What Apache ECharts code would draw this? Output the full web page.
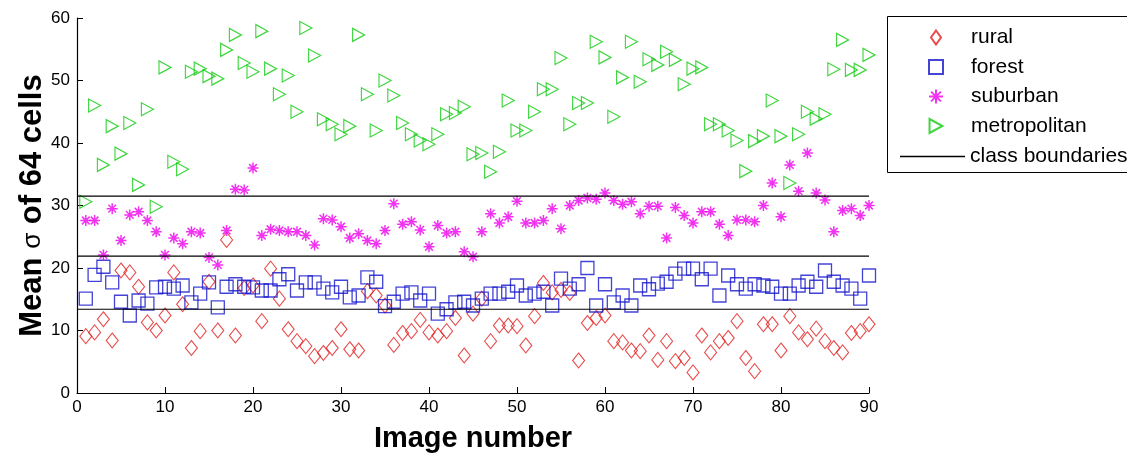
<!DOCTYPE html>
<html><head><meta charset="utf-8">
<script src="https://cdn.jsdelivr.net/npm/echarts@6/dist/echarts.min.js"></script>
<style>html,body{margin:0;padding:0;background:#fff}#c{width:1127px;height:458px}</style>
</head><body><div id="c"></div>
<script>
// Image numbers 1..90
const imageNumbers = Array.from({length: 90}, (_, i) => i + 1);
const xTicks = [0, 10, 20, 30, 40, 50, 60, 70, 80, 90];
const yTicks = [0, 10, 20, 30, 40, 50, 60];

const rural = [9.1,9.7,11.8,8.4,19.6,19.3,17,11.3,10,12.4,
  19.3,14.2,7.2,9.9,17.8,10,24.5,9.2,16.8,17.2,
  11.5,19.9,15.1,10.2,8.3,7.5,5.9,6.4,7.2,10.2,
  7.0,6.8,16.3,15.6,14,7.7,9.6,9.9,11.7,9.7,
  9.2,9.9,12.0,6.0,12.7,15.1,8.3,10.8,10.8,10.7,
  7.6,12.3,17.6,16.1,16.5,16.0,5.2,11.2,12.0,12.4,
  8.3,8.1,6.8,6.7,9.2,5.3,8.3,5.1,5.6,3.3,
  9.2,6.5,8.3,8.8,11.5,5.6,3.5,11,11,6.8,
  12.3,9.7,8.6,10.3,8.3,7.2,6.5,9.6,9.9,11];

const forest = [15.1,18.9,20.2,17.7,14.6,12.4,14.8,14.3,16.9,17,
  16.7,17.2,14.5,15.9,17.7,13.7,17,17.4,17,16.9,
  16.4,16.4,18.2,19,16.4,17.7,17.7,16.7,16.1,17,
  15.3,15.6,18.5,17.8,13.9,14.6,15.9,16.1,14.8,15.9,
  12.7,13.4,14.5,14.6,14,15.1,15.9,15.9,16.2,17.2,
  15.6,15.9,16.2,14,18.3,16.7,17.4,20,14,17.4,
  14.5,15.6,14,17.2,16.6,17.5,17.8,19.1,19.9,19.9,
  18.2,19.9,15.6,18.8,17.4,16.7,17.4,17.2,17,15.9,
  15.9,17.2,17.8,17,19.6,17.8,17.2,16.7,15.1,18.8];

const suburban = [27.6,27.6,22.1,29.5,24.4,28.5,29,27.6,25.8,22.1,
  24.8,23.9,25.8,25.6,21.7,20.5,26,32.6,32.5,36,
  25.2,26.2,26,25.8,25.8,25.2,23.7,27.9,27.7,26.6,
  24.8,25.5,24.4,23.9,26,30.3,27,27.4,26.1,23.4,
  26.8,25.6,25.8,22.6,21.8,25.8,28.7,27.2,28.2,30.7,
  27.2,27.2,27.6,29.5,26.3,30,30.8,31.2,31,32,
  30.8,30.2,30.6,28.7,29.9,29.9,24.8,29.7,28.4,27.2,
  29,29,27,25.2,27.7,27.7,27.4,30,33.6,28.2,
  36.5,32.3,38.4,32,30.9,25.8,29.2,29.5,28.4,30];

const metropolitan = [30.6,46,36.5,42.7,38.3,43.2,33.3,45.4,29.8,52.1,
  37,35.8,51.4,51.9,50.7,50.3,54.9,57.3,52.8,51.4,
  57.9,51.9,47.8,50.8,45,58.4,54,43.8,43,41.4,
  42.7,57.3,47.8,42,50,47.6,43.2,41.4,40.4,39.8,
  41.4,44.6,44.8,45.8,38.2,38.4,35.4,38.6,46.8,42,
  42,45,48.6,48.6,53.6,43,46.4,46.4,56.2,53.7,
  44.2,50.5,56.2,49.8,53.4,52.5,54.6,53.3,49.4,51.9,
  52.1,43,43,42,40.4,35.5,40.3,41.1,46.8,41.1,
  33.6,41.4,45,43.9,44.6,51.8,56.5,51.7,51.7,54.1];

const classBoundaries = [31.5, 21.9, 13.4];
const boundaryRange = [0, 90];

const FONT = '"Liberation Sans", Arial, sans-serif';
const pts = vals => vals.map((v, i) => [imageNumbers[i], v]);

const DIAMOND = 'path://M5,0L10,7L5,14L0,7Z';
const SQUARE = 'path://M0,0L10,0L10,10L0,10Z';
const STAR = 'path://M5,0L5,10M0,5L10,5M1.5,1.5L8.5,8.5M8.5,1.5L1.5,8.5';
const TRI = 'path://M0,0L12,6.5L0,13Z';

function scatter(name, data, symbol, size, color, bw) {
  return {
    name, type: 'scatter', data: pts(data), symbol, symbolSize: size,
    itemStyle: {color: 'rgba(0,0,0,0)', borderColor: color, borderWidth: bw},
    emphasis: {disabled: true}, animation: false
  };
}

const series = [
  scatter('rural', rural, DIAMOND, [12, 15], '#e41e1e', 1.1),
  scatter('forest', forest, SQUARE, 13, '#1414cc', 1.3),
  scatter('suburban', suburban, STAR, 11, '#ee00ee', 1.5),
  scatter('metropolitan', metropolitan, TRI, [12, 13], '#11cc11', 1.2)
];
classBoundaries.forEach(b => {
  series.push({
    name: 'class boundaries', type: 'line', symbol: 'none', showSymbol: false,
    data: [[boundaryRange[0], b], [boundaryRange[1], b]],
    lineStyle: {color: '#000', width: 1.2}, itemStyle: {color: '#000'},
    emphasis: {disabled: true}, animation: false, silent: true
  });
});

const chart = echarts.init(document.getElementById('c'), null, {renderer: 'canvas'});
chart.setOption({
  backgroundColor: '#fff',
  animation: false,
  grid: {left: 77, right: 258, top: 18, bottom: 63},
  xAxis: {
    type: 'value', min: xTicks[0], max: xTicks[xTicks.length - 1], interval: 10,
    name: 'Image number', nameLocation: 'middle', nameGap: 31, nameMoveOverlap: false,
    nameTextStyle: {fontFamily: FONT, fontSize: 29, fontWeight: 'bold', color: '#000'},
    axisLine: {lineStyle: {color: '#000', width: 1.2}},
    axisTick: {inside: true, length: 6, lineStyle: {color: '#000'}},
    axisLabel: {fontFamily: FONT, fontSize: 17, color: '#000', margin: 6},
    splitLine: {show: false}
  },
  yAxis: {
    type: 'value', min: yTicks[0], max: yTicks[yTicks.length - 1], interval: 10,
    name: 'Mean {s|σ} of 64 cells', nameLocation: 'middle', nameGap: 29, nameMoveOverlap: false,
    nameTextStyle: {fontFamily: FONT, fontSize: 31, fontWeight: 'bold', color: '#000',
      rich: {s: {fontFamily: FONT, fontSize: 26, fontWeight: 'normal', color: '#000'}}},
    axisLine: {show: true, lineStyle: {color: '#000', width: 1.2}},
    axisTick: {show: true, inside: true, length: 6, lineStyle: {color: '#000'}},
    axisLabel: {fontFamily: FONT, fontSize: 17, color: '#000', margin: 7},
    splitLine: {show: false}
  },
  graphic: [{
    type: 'rect', z: 1,
    shape: {x: 887.5, y: 16.5, width: 260, height: 156},
    style: {fill: '#fff', stroke: '#000', lineWidth: 1}
  }],
  legend: [{
    data: ['rural', 'forest', 'suburban', 'metropolitan'],
    orient: 'vertical', left: 928, top: 27, padding: 0,
    itemWidth: 60, itemHeight: 14, itemGap: 8.5, z: 5,
    selectedMode: false,
    textStyle: {fontFamily: FONT, fontSize: 21, color: '#000', lineHeight: 20}
  }, {
    data: [{name: 'class boundaries', icon: 'rect'}],
    orient: 'vertical', left: 900, top: 146, padding: 0,
    itemWidth: 65, itemHeight: 1.3, z: 5, selectedMode: false,
    itemStyle: {color: '#000', borderWidth: 0},
    textStyle: {fontFamily: FONT, fontSize: 21, color: '#000', lineHeight: 20}
  }],
  series
});
</script></body></html>
